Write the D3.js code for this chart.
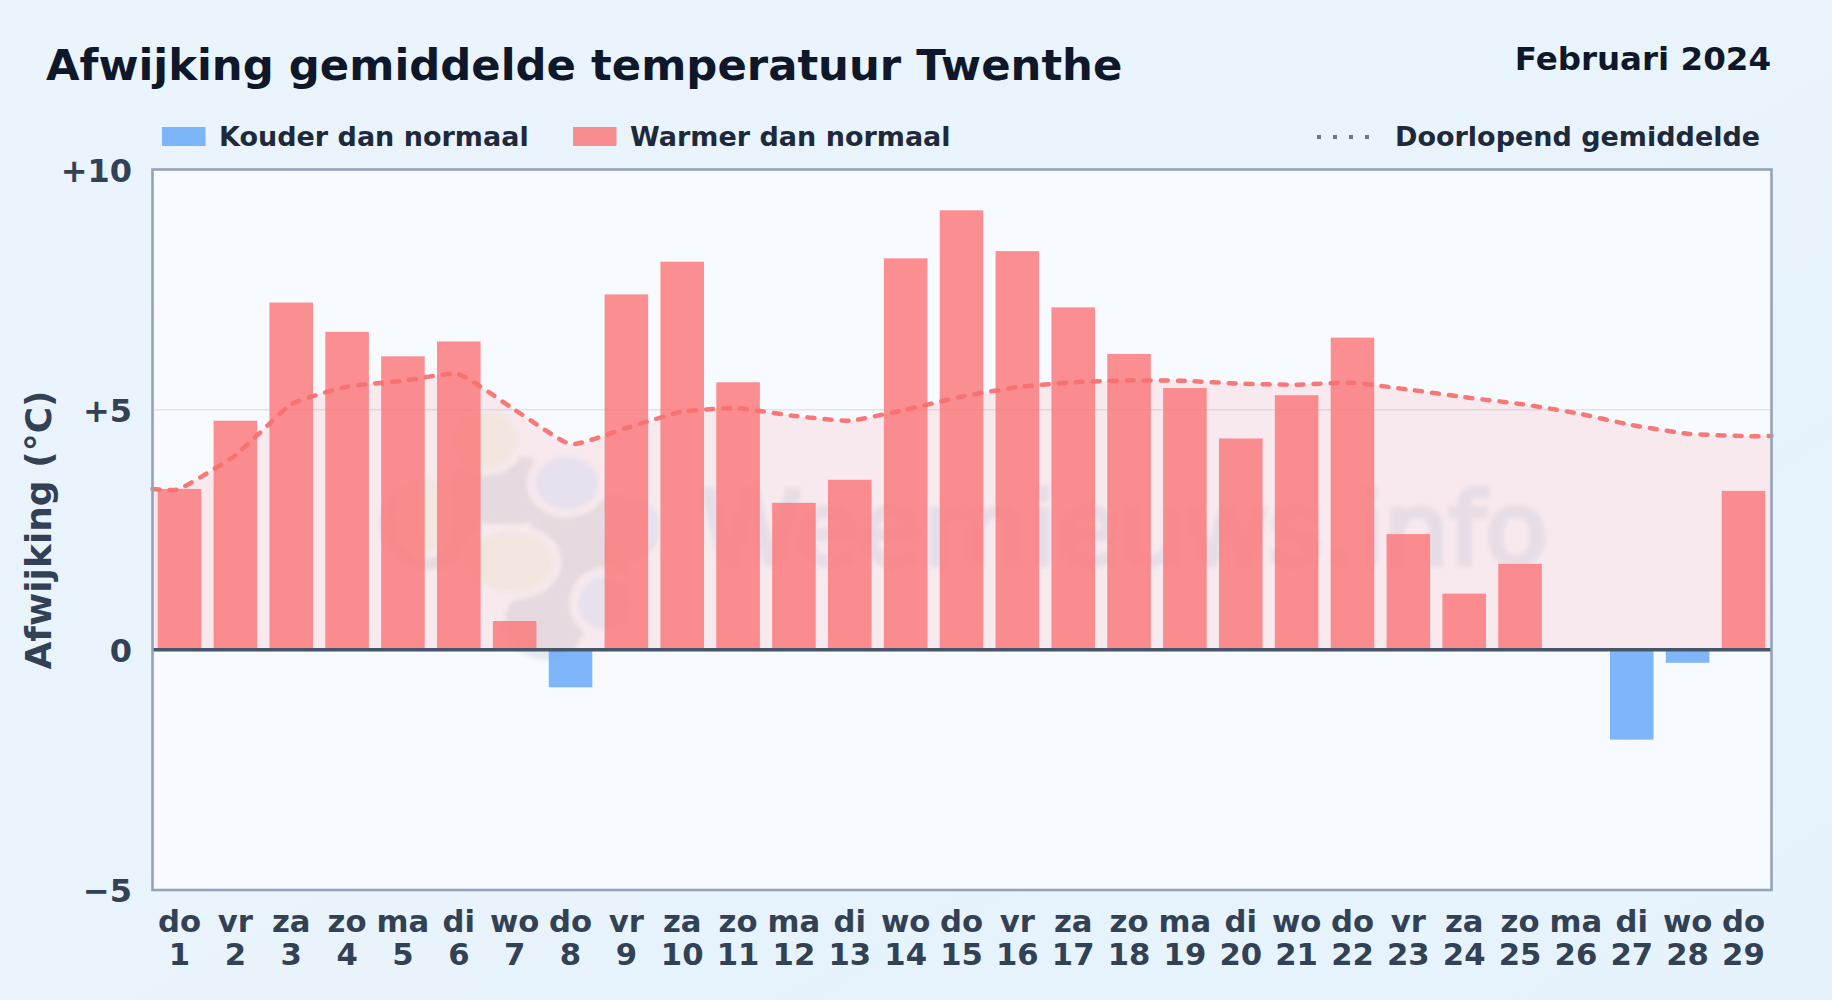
<!DOCTYPE html>
<html lang="nl">
<head>
<meta charset="utf-8">
<title>Afwijking gemiddelde temperatuur Twenthe</title>
<script src="https://cdn.jsdelivr.net/npm/d3@7"></script>
<style>
html,body{margin:0;padding:0;background:#e8f3fc;overflow:hidden}
svg{display:block}
text{font-family:"DejaVu Sans",sans-serif;font-weight:700}
</style>
</head>
<body>
<div id="chart"></div>
<script>
const titleText = "Afwijking gemiddelde temperatuur Twenthe";
const periodText = "Februari 2024";
const yTitle = "Afwijking (°C)";
const legendCold = "Kouder dan normaal";
const legendWarm = "Warmer dan normaal";
const legendMean = "Doorlopend gemiddelde";
const watermarkText = "Weernieuws.info";

const weekdays = ["do","vr","za","zo","ma","di","wo","do","vr","za","zo","ma","di","wo","do","vr","za","zo","ma","di","wo","do","vr","za","zo","ma","di","wo","do"];
const days = d3.range(1, 30);
const anomalies = [3.35,4.77,7.23,6.62,6.11,6.42,0.60,-0.78,7.40,8.08,5.57,3.06,3.54,8.15,9.15,8.30,7.13,6.16,5.45,4.40,5.30,6.50,2.41,1.17,1.79,0,-1.87,-0.27,3.31];
const runningMean = [3.35,4.05,5.11,5.48,5.60,5.74,5.00,4.28,4.62,4.96,5.03,4.87,4.77,5.00,5.27,5.47,5.57,5.61,5.60,5.54,5.52,5.56,5.42,5.26,5.12,4.93,4.68,4.50,4.45];
const yTicks = [10,5,0,-5];
const yTickLabels = ["+10","+5","0","−5"];

const W = 1832, H = 1000;
const plot = {l:152.5, r:1771.5, t:169.5, b:890};

const svg = d3.select("#chart").append("svg").attr("width",W).attr("height",H).attr("viewBox",[0,0,W,H]);
const defs = svg.append("defs");
const bg = defs.append("linearGradient").attr("id","bg").attr("x1",0).attr("y1",0).attr("x2",1).attr("y2",1);
bg.append("stop").attr("offset",0).attr("stop-color","#ebf4fb");
bg.append("stop").attr("offset",1).attr("stop-color","#e6f3fd");
defs.append("filter").attr("id","soft").attr("x","-10%").attr("y","-10%").attr("width","120%").attr("height","120%")
  .append("feGaussianBlur").attr("stdDeviation",2);
defs.append("clipPath").attr("id","plotClip").append("rect")
  .attr("x",plot.l).attr("y",plot.t).attr("width",plot.r-plot.l).attr("height",plot.b-plot.t);

svg.append("rect").attr("width",W).attr("height",H).attr("fill","url(#bg)");
svg.append("rect").attr("x",plot.l).attr("y",plot.t).attr("width",plot.r-plot.l).attr("height",plot.b-plot.t).attr("fill","#f7fbff");

const x = d3.scaleBand().domain(days).range([151.6,1771.4]).paddingInner(0.22).paddingOuter(0.11);
const y = d3.scaleLinear().domain([-5,10]).range([plot.b,plot.t]);
const cx = d => x(d) + x.bandwidth()/2;

// gridline
const grid = svg.append("g");
grid.selectAll("line").data(yTicks.filter(t => t===5)).join("line")
  .attr("x1",plot.l).attr("x2",plot.r).attr("y1",d=>y(d)).attr("y2",d=>y(d))
  .attr("stroke","#dfe5ec").attr("stroke-width",1.5);

// watermark
const wm = svg.append("g").attr("clip-path","url(#plotClip)").append("g").attr("filter","url(#soft)").attr("opacity",0.1);
const wmBody = "#475569", wmHalo = "#f7fbff", wmWarm = "#d2dc6e", wmCool = "#46a8ff";
const wmShapes = [
  [430,525,50,44,wmBody],[505,490,56,36,wmBody],[575,555,54,54,wmBody],[545,622,40,38,wmBody],[615,530,44,34,wmBody],
  [487,440,37,35,wmHalo],[567,483,40,34,wmHalo],[510,562,51,38,wmHalo],[605,603,35,35,wmHalo],[425,515,28,44,wmHalo],
  [487,440,30,28,wmWarm],[567,483,32,27,wmCool],[510,562,43,30,wmWarm],[605,603,27,27,wmCool],[425,515,22,38,wmWarm],[632,525,28,25,wmCool]
];
wm.selectAll("ellipse").data(wmShapes).join("ellipse")
  .attr("cx",d=>d[0]).attr("cy",d=>d[1]).attr("rx",d=>d[2]).attr("ry",d=>d[3]).attr("fill",d=>d[4]);
wm.append("text").text(watermarkText).attr("x",700).attr("y",564)
  .attr("font-size",100).attr("textLength",848).attr("lengthAdjust","spacingAndGlyphs")
  .style("font-weight",400).style("font-family","'DejaVu Sans',sans-serif").attr("fill","#4a78c8")
  .attr("stroke","#4a78c8").attr("stroke-width",5);

// area + mean line extended to the plot edges
const meanPts = [[plot.l,runningMean[0]], ...days.map((d,i)=>[cx(d),runningMean[i]]), [plot.r,runningMean[runningMean.length-1]]];
const meanCurve = d3.curveCardinal.tension(0.55);
svg.append("path").datum(meanPts)
  .attr("d",d3.area().x(d=>d[0]).y0(y(0)).y1(d=>y(d[1])).curve(meanCurve))
  .attr("fill","#f87171").attr("fill-opacity",0.125);

// bars
svg.append("g").selectAll("rect").data(days).join("rect")
  .attr("x",d=>x(d)).attr("width",x.bandwidth())
  .attr("y",(d,i)=>y(Math.max(0,anomalies[i])))
  .attr("height",(d,i)=>Math.abs(y(anomalies[i])-y(0)))
  .attr("fill",(d,i)=>anomalies[i]<0?"#60a5fa":"#fa7a7c")
  .attr("fill-opacity",(d,i)=>anomalies[i]<0?0.8:0.85);

svg.append("path").datum(meanPts)
  .attr("d",d3.line().x(d=>d[0]).y(d=>y(d[1])).curve(meanCurve))
  .attr("fill","none").attr("stroke","#f87171").attr("stroke-width",4.5)
  .attr("stroke-linecap","round").attr("stroke-dasharray","7 10").attr("stroke-opacity",0.95);

// zero line and frame
svg.append("line").attr("x1",plot.l).attr("x2",plot.r).attr("y1",y(0)).attr("y2",y(0))
  .attr("stroke","#475569").attr("stroke-width",3.5);
svg.append("rect").attr("x",plot.l).attr("y",plot.t).attr("width",plot.r-plot.l).attr("height",plot.b-plot.t)
  .attr("fill","none").attr("stroke","#94a3b8").attr("stroke-width",2.6);

// axes
const yAxis = d3.axisLeft(y).tickValues(yTicks).tickSize(0).tickPadding(0).tickFormat((d,i)=>yTickLabels[i]);
const gy = svg.append("g").attr("transform","translate(132,0)").call(yAxis);
gy.select(".domain").remove();
gy.selectAll("text").attr("font-size",32).attr("fill","#334155").style("font-family","'DejaVu Sans',sans-serif").attr("dy","0.36em");

const xAxis = d3.axisBottom(x).tickSize(0).tickPadding(0).tickFormat(()=>"");
const gx = svg.append("g").attr("transform",`translate(0,${plot.b})`).call(xAxis);
gx.select(".domain").remove();
gx.selectAll(".tick text").each(function(d,i){
  const t = d3.select(this).attr("font-size",30.7).attr("fill","#334155").attr("y",0).attr("dy",null)
    .style("font-family","'DejaVu Sans',sans-serif").text(null);
  t.append("tspan").attr("x",0).attr("y",41.7).text(weekdays[i]);
  t.append("tspan").attr("x",0).attr("y",75).text(days[i]);
});

svg.append("text").text(yTitle).attr("transform","translate(51,530) rotate(-90)")
  .attr("text-anchor","middle").attr("font-size",36).attr("fill","#334155");

// title
svg.append("text").text(titleText).attr("x",46).attr("y",79.5).attr("font-size",43.35).attr("fill","#0f172a");
svg.append("text").text(periodText).attr("x",1771).attr("y",70).attr("text-anchor","end").attr("font-size",32.5).attr("fill","#0f172a");

// legend
const legend = svg.append("g");
const legItems = [[162,219,legendCold,"#60a5fa",0.8],[573,630,legendWarm,"#fa7a7c",0.85]];
legItems.forEach(([sx,tx,label,c,o])=>{
  legend.append("rect").attr("x",sx).attr("y",127).attr("width",43.5).attr("height",19).attr("fill",c).attr("fill-opacity",o);
  legend.append("text").text(label).attr("x",tx).attr("y",146).attr("font-size",27).attr("fill","#1e293b");
});
legend.append("line").attr("x1",1317).attr("x2",1374).attr("y1",137).attr("y2",137)
  .attr("stroke","#6b7785").attr("stroke-width",4).attr("stroke-dasharray","4 12");
legend.append("text").text(legendMean).attr("x",1395).attr("y",146).attr("font-size",27).attr("fill","#1e293b");
</script>
</body>
</html>
